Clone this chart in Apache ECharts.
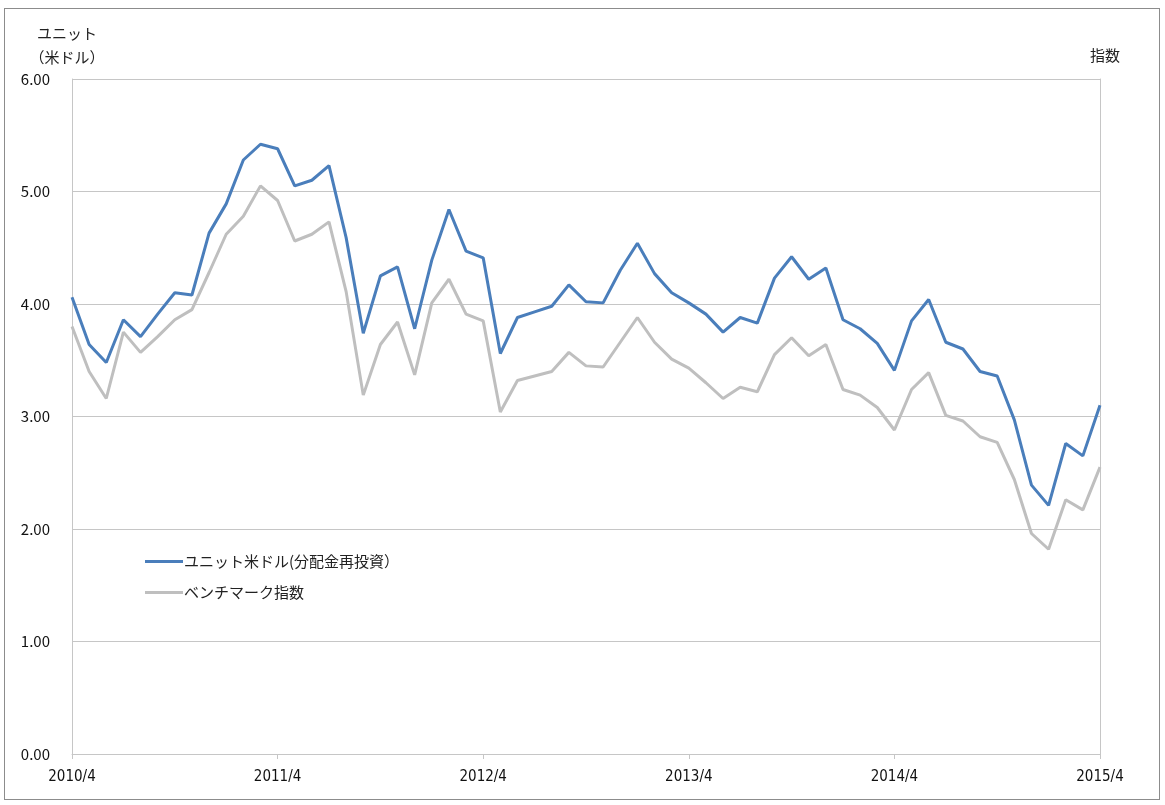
<!DOCTYPE html>
<html>
<head>
<meta charset="utf-8">
<script src="https://cdn.jsdelivr.net/npm/echarts@6/dist/echarts.min.js"></script>
<style>
  html, body { margin: 0; padding: 0; background: #fff; }
  #frame { position: absolute; left: 4px; top: 8px; width: 1156px; height: 792px; border: 1px solid #8c8c8c; box-sizing: border-box; }
  #chart { position: absolute; left: 0; top: 0; width: 1165px; height: 805px; }
</style>
</head>
<body>
<div id="frame"></div>
<div id="chart"></div>
<script>
// monthly, 2010/4 .. 2015/4
const months = [];
for (let y = 2010, m = 4; y < 2015 || (y === 2015 && m <= 4); m++) {
  if (m > 12) { m = 1; y++; }
  months.push(y + "/" + m);
}

const unitUsd = [
  4.06, 3.64, 3.48, 3.86, 3.71, 3.91, 4.10, 4.08, 4.63, 4.89,
  5.28, 5.42, 5.38, 5.05, 5.10, 5.23, 4.59, 3.74, 4.25, 4.33,
  3.78, 4.39, 4.84, 4.47, 4.41, 3.56, 3.88, 3.93, 3.98, 4.17,
  4.02, 4.01, 4.30, 4.54, 4.27, 4.10, 4.01, 3.91, 3.75, 3.88,
  3.83, 4.23, 4.42, 4.22, 4.32, 3.86, 3.78, 3.65, 3.41, 3.85,
  4.04, 3.66, 3.60, 3.40, 3.36, 2.97, 2.39, 2.21, 2.76, 2.65,
  3.10
];

const benchmark = [
  3.80, 3.40, 3.16, 3.75, 3.57, 3.71, 3.86, 3.95, 4.28, 4.62,
  4.78, 5.05, 4.92, 4.56, 4.62, 4.73, 4.11, 3.19, 3.64, 3.84,
  3.37, 4.01, 4.22, 3.91, 3.85, 3.04, 3.32, 3.36, 3.40, 3.57,
  3.45, 3.44, 3.66, 3.88, 3.66, 3.51, 3.43, 3.30, 3.16, 3.26,
  3.22, 3.55, 3.70, 3.54, 3.64, 3.24, 3.19, 3.08, 2.88, 3.24,
  3.39, 3.01, 2.96, 2.82, 2.77, 2.44, 1.96, 1.82, 2.26, 2.17,
  2.55
];

const seriesNames = ["ユニット米ドル(分配金再投資）", "ベンチマーク指数"];

const font = "'Noto Sans CJK JP', 'Liberation Sans', sans-serif";
const gridColor = "#c6c6c6";

let myChart = echarts.init(document.getElementById("chart"));
myChart.setOption({
  animation: false,
  textStyle: { fontFamily: font },
  grid: { left: 72, right: 65, top: 79, bottom: 51, containLabel: false },
  legend: {
    orient: "vertical",
    left: 140,
    top: 549,
    itemWidth: 38,
    itemHeight: 3,
    itemGap: 16,
    icon: "rect",
    textStyle: { fontSize: 15, color: "#222", fontFamily: font, padding: [0, 0, 0, -4] },
    data: seriesNames
  },
  xAxis: {
    type: "category",
    boundaryGap: false,
    data: months,
    axisLine: { lineStyle: { color: gridColor, width: 1 } },
    axisTick: {
      alignWithLabel: true,
      length: 5,
      lineStyle: { color: gridColor },
      interval: (i) => i % 12 === 0
    },
    axisLabel: {
      interval: (i) => i % 12 === 0,
      margin: 16,
      fontSize: 15,
      color: "#111",
      fontFamily: "'DejaVu Sans Condensed', 'Liberation Sans Narrow', sans-serif"
    },
    splitLine: { show: false }
  },
  yAxis: [
    {
      type: "value",
      min: 0,
      max: 6,
      interval: 1,
      name: "ユニット\n（米ドル）",
      nameLocation: "end",
      nameGap: 10,
      nameTextStyle: { fontSize: 15, color: "#222", align: "center", padding: [0, 0, 0, -10], lineHeight: 24 },
      axisLine: { show: true, lineStyle: { color: gridColor } },
      axisTick: { show: false },
      axisLabel: { formatter: (v) => v.toFixed(2), fontSize: 15, color: "#111", margin: 22 },
      splitLine: { lineStyle: { color: gridColor, width: 1 } }
    },
    {
      type: "value",
      position: "right",
      min: 0,
      max: 6,
      interval: 1,
      name: "指数",
      nameLocation: "end",
      nameGap: 16,
      nameTextStyle: { fontSize: 15, color: "#222", padding: [0, 0, 0, 10] },
      axisLine: { show: true, lineStyle: { color: gridColor } },
      axisTick: { show: false },
      axisLabel: { show: false },
      splitLine: { show: false }
    }
  ],
  series: [
    {
      name: seriesNames[0],
      type: "line",
      data: unitUsd,
      symbol: "none",
      z: 3,
      lineStyle: { color: "#4a7ebb", width: 3 },
      itemStyle: { color: "#4a7ebb" }
    },
    {
      name: seriesNames[1],
      type: "line",
      data: benchmark,
      symbol: "none",
      z: 2,
      lineStyle: { color: "#bfbfbf", width: 3 },
      itemStyle: { color: "#bfbfbf" }
    }
  ]
});
</script>
</body>
</html>
